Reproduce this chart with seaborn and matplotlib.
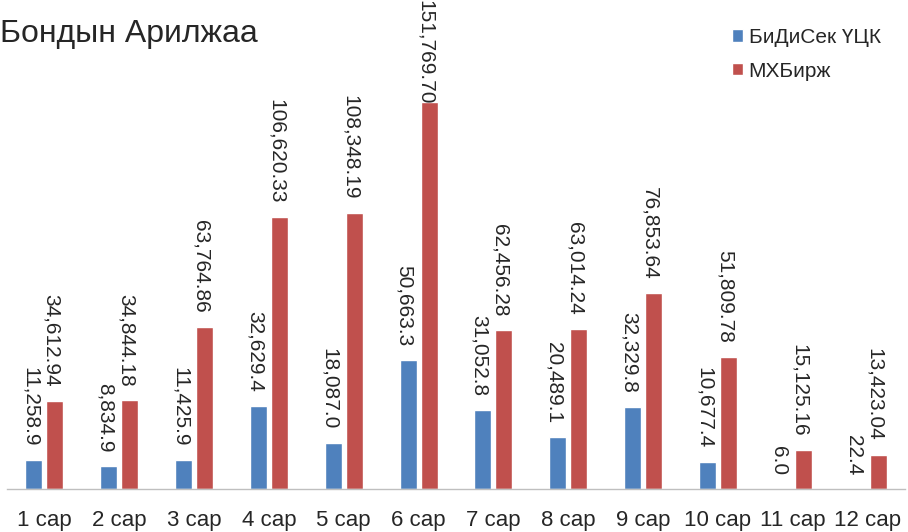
import pandas as pd
import numpy as np
import seaborn as sns
import matplotlib.pyplot as plt

# data
months = ["1 сар", "2 сар", "3 сар", "4 сар", "5 сар", "6 сар",
          "7 сар", "8 сар", "9 сар", "10 сар", "11 сар", "12 сар"]
bidisec = [11258.9, 8834.9, 11425.9, 32629.4, 18087.0, 50663.3,
           31052.8, 20489.1, 32329.8, 10677.4, 6.0, 22.4]
mxbirj = [34612.94, 34844.18, 63764.86, 106620.33, 108348.19, 151769.70,
          62456.28, 63014.24, 76853.64, 51809.78, 15125.16, 13423.04]
series_names = ["БиДиСек ҮЦК", "МХБирж"]
colors = ["#4F81BD", "#C0504D"]

df = pd.DataFrame({
    "month": months * 2,
    "value": bidisec + mxbirj,
    "series": [series_names[0]] * len(months) + [series_names[1]] * len(months),
})

sns.set_style("white")
plt.rcParams['font.family'] = ['Liberation Sans', 'DejaVu Sans']

fig = plt.figure(figsize=(9.08, 5.32), dpi=100)
ax = fig.add_axes([7 / 908, 1 - 489 / 532, 898 / 908, 489 / 532])

sns.barplot(data=df, x="month", y="value", hue="series", palette=colors,
            width=0.56, gap=0.19, saturation=1, ax=ax, legend=True)

ax.set_ylim(0, 192000)
ax.set_xlim(-0.5, len(months) - 0.5)
ax.set_xlabel("")
ax.set_ylabel("")
ax.set_yticks([])
for s in ["top", "right", "left"]:
    ax.spines[s].set_visible(False)
ax.spines["bottom"].set_color("#BFBFBF")
ax.spines["bottom"].set_linewidth(1)

# boundary ticks between categories
ax.set_xticks(np.arange(-0.5, len(months)), minor=True)
ax.tick_params(axis="x", which="minor", length=7, color="#BFBFBF", width=1, direction="out")
ax.tick_params(axis="x", which="major", length=0, pad=15, labelsize=16)

# value labels, rotated to read top-to-bottom
fmts = ["{:,.1f}", "{:,.2f}"]
labels = []
for cont, fmt in zip(ax.containers, fmts):
    for bar in cont:
        h = bar.get_height()
        t = ax.annotate(fmt.format(h), (bar.get_x() + bar.get_width() / 2, h),
                        xytext=(-2.5, 10), textcoords="offset points",
                        ha="center", va="bottom", rotation=270, fontsize=15)
        labels.append(t)

# keep labels inside the figure
fig.canvas.draw()
for t in labels:
    bb = t.get_window_extent()
    over = bb.y1 - fig.bbox.height
    if over > 0:
        x0, y0 = t.xyann
        t.xyann = (x0, y0 - over * 72 / fig.dpi)

handles, lbls = ax.get_legend_handles_labels()
ax.legend_.remove()
fig.legend(handles, lbls, loc="upper left", bbox_to_anchor=(732 / 908, 1 - 28 / 532),
           bbox_transform=fig.transFigure, frameon=False, fontsize=15,
           handlelength=0.55, handleheight=0.55, handletextpad=0.25,
           labelspacing=0.7, borderpad=0, borderaxespad=0)

fig.text(0.0, 1 - 34 / 532, "Бондын Арилжаа", fontsize=23, ha="left", va="center")

fig.savefig("out.png", dpi=100)
